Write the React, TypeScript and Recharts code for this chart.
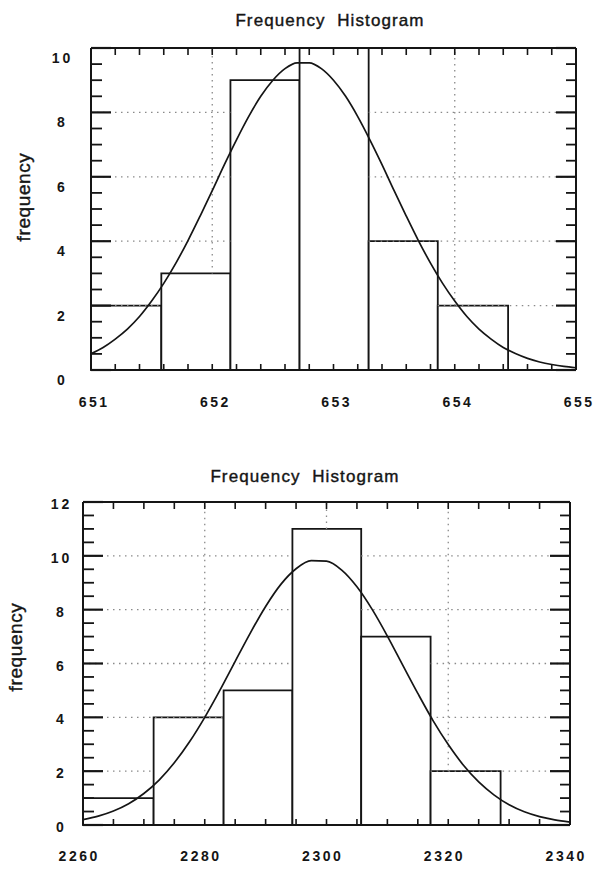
import React from 'react';
import { ComposedChart, Line, XAxis, YAxis, ReferenceArea, ReferenceLine } from 'recharts';

// ---------- Chart 1 data ----------
const h1Edges = [651.0, 651.58, 652.15, 652.72, 653.29, 653.86, 654.44];
const h1Counts = [2, 3, 9, 10, 4, 2];
const c1X = [
  651.0, 651.1, 651.2, 651.3, 651.4, 651.5, 651.6, 651.7, 651.8, 651.9,
  652.0, 652.1, 652.2, 652.3, 652.4, 652.5, 652.6, 652.7, 652.8, 652.9,
  653.0, 653.1, 653.2, 653.3, 653.4, 653.5, 653.6, 653.7, 653.8, 653.9,
  654.0, 654.1, 654.2, 654.3, 654.4, 654.5, 654.6, 654.7, 654.8, 654.9, 655.0,
];
const c1Y = [
  0.51, 0.7, 0.96, 1.27, 1.66, 2.14, 2.69, 3.32, 4.02, 4.78,
  5.57, 6.38, 7.15, 7.87, 8.5, 9.0, 9.36, 9.54, 9.54, 9.36,
  9.0, 8.5, 7.87, 7.15, 6.38, 5.57, 4.78, 4.02, 3.32, 2.69,
  2.14, 1.66, 1.27, 0.96, 0.7, 0.51, 0.36, 0.25, 0.17, 0.11, 0.07,
];
const x1Labels = [651, 652, 653, 654, 655];
const x1Minor = [
  651, 651.2, 651.4, 651.6, 651.8, 652, 652.2, 652.4, 652.6, 652.8, 653, 653.2,
  653.4, 653.6, 653.8, 654, 654.2, 654.4, 654.6, 654.8, 655,
];
const x1Grid = [652, 653, 654];
const y1Labels = [0, 2, 4, 6, 8, 10];
const y1Minor = [
  0, 0.5, 1, 1.5, 2, 2.5, 3, 3.5, 4, 4.5, 5, 5.5, 6, 6.5, 7, 7.5, 8, 8.5, 9, 9.5, 10,
];
const y1Grid = [2, 4, 6, 8];

// ---------- Chart 2 data ----------
const h2Edges = [2260, 2271.6, 2283.1, 2294.4, 2305.7, 2317.1, 2328.6];
const h2Counts = [1, 4, 5, 11, 7, 2];
const c2X = [
  2260, 2262.5, 2265, 2267.5, 2270, 2272.5, 2275, 2277.5, 2280, 2282.5, 2285,
  2287.5, 2290, 2292.5, 2295, 2297.5, 2300, 2302.5, 2305, 2307.5, 2310, 2312.5,
  2315, 2317.5, 2320, 2322.5, 2325, 2327.5, 2330, 2332.5, 2335, 2337.5, 2340,
];
const c2Y = [
  0.2, 0.33, 0.52, 0.79, 1.17, 1.67, 2.31, 3.09, 4.0, 5.01, 6.08,
  7.14, 8.12, 8.94, 9.52, 9.82, 9.8, 9.47, 8.85, 8.01, 7.02, 5.95,
  4.89, 3.88, 2.99, 2.22, 1.6, 1.12, 0.75, 0.49, 0.31, 0.19, 0.11,
];
const x2Labels = [2260, 2280, 2300, 2320, 2340];
const x2Minor = [
  2260, 2265, 2270, 2275, 2280, 2285, 2290, 2295, 2300, 2305, 2310, 2315, 2320,
  2325, 2330, 2335, 2340,
];
const x2Grid = [2280, 2300, 2320];
const y2Labels = [0, 2, 4, 6, 8, 10, 12];
const y2Minor = [
  0, 0.5, 1, 1.5, 2, 2.5, 3, 3.5, 4, 4.5, 5, 5.5, 6, 6.5, 7, 7.5, 8, 8.5, 9, 9.5,
  10, 10.5, 11, 11.5, 12,
];
const y2Grid = [2, 4, 6, 8, 10];

const FONT = '"Liberation Sans", Arial, Helvetica, sans-serif';
const INK = '#151515';
const GRID = '#8a8a8a';

const has = (arr: number[], v: number) => arr.some((a) => Math.abs(a - v) < 1e-6);

type Box = { top: number; right: number; bottom: number; left: number };

type HistProps = {
  edges: number[];
  counts: number[];
  curveX: number[];
  curveY: number[];
  xDomain: [number, number];
  yDomain: [number, number];
  xMinor: number[];
  xLabels: number[];
  xGrid: number[];
  yMinor: number[];
  yLabels: number[];
  yGrid: number[];
  width: number;
  height: number;
  plot: Box; // distance of the plot frame from each side of the chart
  yLabelDx: number;
  yLabelDy: number;
  xLabelDx: number;
  xLabelDy: number;
};

const AX_L = 40;
const AX_R = 10;
const AX_T = 10;
const AX_B = 40;

// Parts of a horizontal grid line (at value v) that are not hidden behind a bar.
function hGridPieces(v: number, edges: number[], counts: number[], dom: [number, number]) {
  const pieces: [number, number][] = [];
  let start = dom[0];
  counts.forEach((c, i) => {
    if (c > v) {
      if (edges[i] > start) pieces.push([start, edges[i]]);
      start = Math.max(start, edges[i + 1]);
    }
  });
  if (start < dom[1]) pieces.push([start, dom[1]]);
  return pieces;
}
// Bottom of a vertical grid line (at value v): top of the bar it stands in.
function vGridBase(v: number, edges: number[], counts: number[]) {
  for (let i = 0; i < counts.length; i++) {
    if (v >= edges[i] && v < edges[i + 1]) return counts[i];
  }
  return 0;
}

function Histogram(p: HistProps) {
  const data = p.curveX.map((x, i) => ({ x, y: p.curveY[i] }));
  const margin = {
    top: p.plot.top - AX_T,
    right: p.plot.right - AX_R,
    bottom: p.plot.bottom - AX_B,
    left: p.plot.left - AX_L,
  };
  const frameLeft = p.plot.left;

  const leftTick = (t: any) => {
    const v = t.payload.value;
    const major = has(p.yLabels, v);
    return (
      <g>
        <line x1={frameLeft} y1={t.y} x2={frameLeft + (major ? 20 : 11)} y2={t.y} stroke={INK} strokeWidth={major ? 2.2 : 1.8} />
        {major && (
          <text
            x={frameLeft - p.yLabelDx + 1.5}
            y={t.y + p.yLabelDy}
            textAnchor="middle"
            dominantBaseline="central"
            fontFamily={FONT}
            fontWeight="bold"
            fontSize={14}
            letterSpacing={3}
            fill={INK}
          >
            {v}
          </text>
        )}
      </g>
    );
  };
  const rightTick = (t: any) => {
    const v = t.payload.value;
    const major = has(p.yLabels, v);
    return (
      <line x1={t.x} y1={t.y} x2={t.x - (major ? 20 : 10)} y2={t.y} stroke={INK} strokeWidth={major ? 2.2 : 1.8} />
    );
  };
  const bottomTick = (t: any) => {
    const v = t.payload.value;
    const lab = has(p.xLabels, v);
    return (
      <g>
        <line x1={t.x} y1={t.y} x2={t.x} y2={t.y - 6} stroke={INK} strokeWidth={1.6} />
        {lab && (
          <text
            x={t.x + p.xLabelDx + 1.2}
            y={t.y + p.xLabelDy}
            textAnchor="middle"
            dominantBaseline="central"
            fontFamily={FONT}
            fontWeight="bold"
            fontSize={14}
            letterSpacing={2.5}
            fill={INK}
          >
            {v}
          </text>
        )}
      </g>
    );
  };
  const topTick = (t: any) => (
    <line x1={t.x} y1={t.y} x2={t.x} y2={t.y + 7} stroke={INK} strokeWidth={1.6} />
  );

  const gridLines: React.ReactNode[] = [];
  p.yGrid.forEach((v) => {
    hGridPieces(v, p.edges, p.counts, p.xDomain).forEach(([a, b], k) => {
      gridLines.push(
        <ReferenceLine
          key={`gy${v}-${k}`}
          xAxisId="b"
          yAxisId="l"
          segment={[{ x: a, y: v }, { x: b, y: v }]}
          stroke={GRID}
          strokeWidth={1.3}
          strokeDasharray="1.5 4.5"
        />
      );
    });
  });
  p.xGrid.forEach((v) => {
    const base = vGridBase(v, p.edges, p.counts);
    if (base < p.yDomain[1]) {
      gridLines.push(
        <ReferenceLine
          key={`gx${v}`}
          xAxisId="b"
          yAxisId="l"
          segment={[{ x: v, y: base }, { x: v, y: p.yDomain[1] }]}
          stroke={GRID}
          strokeWidth={1.3}
          strokeDasharray="1.5 4.5"
        />
      );
    }
  });

  return (
    <ComposedChart width={p.width} height={p.height} data={data} margin={margin}>
      {gridLines}
      {p.counts.map((c, i) => (
        <ReferenceArea
          key={i}
          xAxisId="b"
          yAxisId="l"
          x1={p.edges[i]}
          x2={p.edges[i + 1]}
          y1={0}
          y2={c}
          fill="#ffffff"
          fillOpacity={1}
          stroke={INK}
          strokeWidth={1.8}
          ifOverflow="visible"
        />
      ))}
      <Line
        xAxisId="b"
        yAxisId="l"
        type="monotone"
        dataKey="y"
        stroke={INK}
        strokeWidth={1.7}
        dot={false}
        activeDot={false}
        isAnimationActive={false}
      />
      <XAxis
        xAxisId="b"
        orientation="bottom"
        dataKey="x"
        type="number"
        domain={p.xDomain}
        ticks={p.xMinor}
        interval={0}
        height={AX_B}
        tickSize={0}
        tickMargin={0}
        tickLine={false}
        axisLine={{ stroke: INK, strokeWidth: 2 }}
        tick={bottomTick}
        allowDataOverflow
      />
      <XAxis
        xAxisId="t"
        orientation="top"
        dataKey="x"
        type="number"
        domain={p.xDomain}
        ticks={p.xMinor}
        interval={0}
        height={AX_T}
        tickSize={0}
        tickMargin={0}
        tickLine={false}
        axisLine={{ stroke: INK, strokeWidth: 2 }}
        tick={topTick}
        allowDataOverflow
      />
      <YAxis
        yAxisId="l"
        orientation="left"
        type="number"
        domain={p.yDomain}
        ticks={p.yMinor}
        interval={0}
        width={AX_L}
        tickSize={0}
        tickMargin={0}
        tickLine={false}
        axisLine={{ stroke: INK, strokeWidth: 2 }}
        tick={leftTick}
        allowDataOverflow
      />
      <YAxis
        yAxisId="r"
        orientation="right"
        type="number"
        domain={p.yDomain}
        ticks={p.yMinor}
        interval={0}
        width={AX_R}
        tickSize={0}
        tickMargin={0}
        tickLine={false}
        axisLine={{ stroke: INK, strokeWidth: 2 }}
        tick={rightTick}
        allowDataOverflow
      />
    </ComposedChart>
  );
}

const titleStyle: React.CSSProperties = {
  position: 'absolute',
  fontFamily: FONT,
  fontSize: 17,
  letterSpacing: 1.1,
  color: INK,
  whiteSpace: 'pre',
  transform: 'translate(-50%, -50%)',
  lineHeight: 1,
  WebkitTextStroke: '0.4px #151515',
};
const yTitleStyle: React.CSSProperties = {
  position: 'absolute',
  fontFamily: FONT,
  fontSize: 19,
  letterSpacing: 0.6,
  color: INK,
  whiteSpace: 'pre',
  transform: 'translate(-50%, -50%) rotate(-90deg)',
  lineHeight: 1,
  WebkitTextStroke: '0.4px #151515',
};

export default function App() {
  return (
    <div style={{ position: 'absolute', left: 0, top: 0, width: 594, height: 874, background: '#ffffff', overflow: 'hidden' }}>
      <div style={{ position: 'absolute', left: 0, top: 0 }}>
        <Histogram
          edges={h1Edges}
          counts={h1Counts}
          curveX={c1X}
          curveY={c1Y}
          xDomain={[651, 655]}
          yDomain={[0, 10]}
          xMinor={x1Minor}
          xLabels={x1Labels}
          xGrid={x1Grid}
          yMinor={y1Minor}
          yLabels={y1Labels}
          yGrid={y1Grid}
          width={594}
          height={430}
          plot={{ top: 48, right: 18, bottom: 60, left: 91 }}
          yLabelDx={30}
          yLabelDy={10}
          xLabelDx={2}
          xLabelDy={32}
        />
      </div>
      <div style={{ position: 'absolute', left: 0, top: 440 }}>
        <Histogram
          edges={h2Edges}
          counts={h2Counts}
          curveX={c2X}
          curveY={c2Y}
          xDomain={[2260, 2340]}
          yDomain={[0, 12]}
          xMinor={x2Minor}
          xLabels={x2Labels}
          xGrid={x2Grid}
          yMinor={y2Minor}
          yLabels={y2Labels}
          yGrid={y2Grid}
          width={594}
          height={434}
          plot={{ top: 62, right: 24, bottom: 49, left: 83 }}
          yLabelDx={23}
          yLabelDy={2}
          xLabelDx={-5}
          xLabelDy={31}
        />
      </div>
      <div style={{ ...titleStyle, left: 330, top: 20 }}>Frequency  Histogram</div>
      <div style={{ ...titleStyle, left: 305, top: 476 }}>Frequency  Histogram</div>
      <div style={{ ...yTitleStyle, left: 23, top: 197 }}>frequency</div>
      <div style={{ ...yTitleStyle, left: 15, top: 647 }}>frequency</div>
    </div>
  );
}
